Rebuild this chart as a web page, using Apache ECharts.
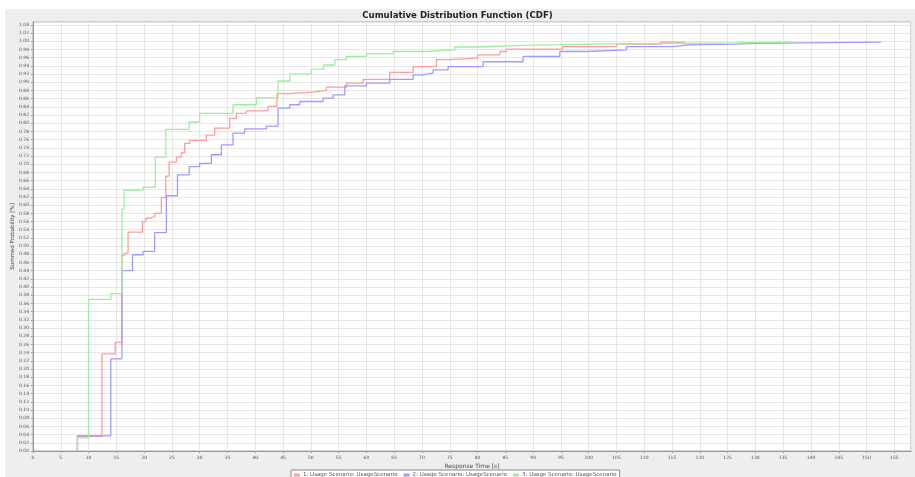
<!DOCTYPE html>
<html>
<head>
<meta charset="utf-8">
<script src="https://cdn.jsdelivr.net/npm/echarts@6/dist/echarts.min.js"></script>
<style>html,body{margin:0;padding:0;background:#fff}#c{width:915px;height:477px}</style>
</head>
<body>
<div id="c"></div>
<script>
// Data (step CDF, value holds from x until next x)
const scenario1Times = [8, 8, 12.4, 14.8, 16, 16.4, 17.1, 19.7, 20.3, 21, 21.9, 23.1, 23.9, 24.5, 25.8, 26.7, 27.3, 28.2, 31.2, 32.7, 35.4, 36.6, 38.4, 42.3, 43.9, 46.2, 50.4, 52.8, 56.4, 59.4, 64.2, 68.4, 72.6, 75, 80, 84, 85.2, 95.3, 105, 113, 117.3];
const scenario1Probs = [0, 0.036, 0.237, 0.265, 0.477, 0.483, 0.534, 0.56, 0.568, 0.572, 0.58, 0.619, 0.671, 0.705, 0.717, 0.728, 0.751, 0.758, 0.771, 0.788, 0.812, 0.824, 0.83, 0.841, 0.872, 0.876, 0.88, 0.888, 0.898, 0.907, 0.924, 0.938, 0.955, 0.959, 0.967, 0.975, 0.981, 0.987, 0.993, 0.998, 0.998];

const scenario2Times = [8, 8, 14, 16, 17.9, 19.8, 21.9, 24, 26, 28.1, 30, 32.1, 33.9, 36, 38.1, 42, 44.1, 46.2, 48, 52.2, 54, 56.1, 60, 64.2, 68.4, 70.2, 72, 74.7, 81, 88.2, 94.8, 99.6, 106.8, 115.2, 117.8, 126.3, 130, 152.6];
const scenario2Probs = [0, 0.037, 0.225, 0.44, 0.479, 0.487, 0.533, 0.623, 0.674, 0.694, 0.702, 0.723, 0.747, 0.776, 0.786, 0.793, 0.837, 0.845, 0.853, 0.861, 0.869, 0.891, 0.898, 0.907, 0.918, 0.922, 0.93, 0.938, 0.95, 0.963, 0.975, 0.979, 0.987, 0.991, 0.993, 0.995, 0.998, 0.998];

const scenario3Times = [8, 8, 10, 14, 16, 16.4, 19.8, 22, 23.9, 28.1, 30, 36, 40.2, 44.1, 46.2, 50.1, 52.3, 54.3, 56.4, 60, 64.8, 70.8, 75.9, 80, 88.5, 99.8, 126.3, 136.6];
const scenario3Probs = [0, 0.032, 0.37, 0.384, 0.59, 0.637, 0.644, 0.717, 0.785, 0.803, 0.824, 0.845, 0.862, 0.903, 0.92, 0.932, 0.942, 0.955, 0.963, 0.969, 0.975, 0.979, 0.986, 0.99, 0.993, 0.996, 0.998, 0.998];

const seriesNames = ['1: Usage Scenario: UsageScenario', '2: Usage Scenario: UsageScenario', '3: Usage Scenario: UsageScenario'];
const seriesColors = ['#ff9c9c', '#9c9cff', '#9cee9c'];

const pairs = (xs, ys) => xs.map((x, i) => [x, ys[i]]);
const allData = [pairs(scenario1Times, scenario1Probs), pairs(scenario2Times, scenario2Probs), pairs(scenario3Times, scenario3Probs)];

const chart = echarts.init(document.getElementById('c'), null, {renderer: 'canvas'});
const font = 'DejaVu Sans';
chart.setOption({
  animation: false,
  backgroundColor: '#eeeeee',
  textStyle: {fontFamily: font},
  title: {
    text: 'Cumulative Distribution Function (CDF)',
    left: 'center', top: 6,
    textStyle: {fontFamily: font, fontSize: 8.6, fontWeight: 'bold', color: '#222'}
  },
  graphic: [
    {type: 'rect', left: 0, top: 0, shape: {width: 915, height: 9}, style: {fill: '#fff'}, z: 100, silent: true},
    {type: 'rect', left: 0, top: 0, shape: {width: 5, height: 477}, style: {fill: '#fff'}, z: 100, silent: true}
  ],
  legend: {
    data: seriesNames,
    left: 291, top: 470,
    icon: 'rect', itemWidth: 6, itemHeight: 3, itemGap: 6,
    padding: [2, 3],
    borderColor: '#888', borderWidth: 1, backgroundColor: '#fff',
    textStyle: {fontFamily: font, fontSize: 5.5, color: '#555', padding: [0, 0, 0, -2]}
  },
  grid: {
    left: 33, right: 4, top: 22, bottom: 26,
    outerBoundsMode: 'none', containLabel: false,
    show: true, backgroundColor: '#fff', borderColor: '#aaa', borderWidth: 1
  },
  xAxis: {
    type: 'value', min: 0, max: 158, interval: 5,
    name: 'Response Time [s]', nameLocation: 'middle', nameGap: 12, nameMoveOverlap: false,
    nameTextStyle: {fontFamily: font, fontSize: 6, color: '#444'},
    axisLine: {show: true, lineStyle: {color: '#999'}},
    axisTick: {show: true, length: 2, lineStyle: {color: '#999'}},
    axisLabel: {fontFamily: font, fontSize: 4.5, color: '#555', margin: 4, showMaxLabel: false},
    splitLine: {show: true, lineStyle: {color: '#e6e6e6', width: 1}}
  },
  yAxis: {
    type: 'value', min: 0, max: 1.047, interval: 0.02,
    name: 'Summed Probability [%]', nameLocation: 'middle', nameGap: 17, nameMoveOverlap: false,
    nameTextStyle: {fontFamily: font, fontSize: 5.5, color: '#444'},
    axisLine: {show: true, lineStyle: {color: '#999'}},
    axisTick: {show: true, length: 2, lineStyle: {color: '#999'}},
    axisLabel: {fontFamily: font, fontSize: 4.5, color: '#555', margin: 4, showMaxLabel: false,
      formatter: v => v.toFixed(2)},
    splitLine: {show: true, lineStyle: {color: '#e6e6e6', width: 1}}
  },
  series: allData.map((d, i) => ({
    name: seriesNames[i], type: 'line', step: 'end', data: d,
    symbol: 'none', color: seriesColors[i],
    lineStyle: {width: 1.3, color: seriesColors[i]}
  }))
});
</script>
</body>
</html>
